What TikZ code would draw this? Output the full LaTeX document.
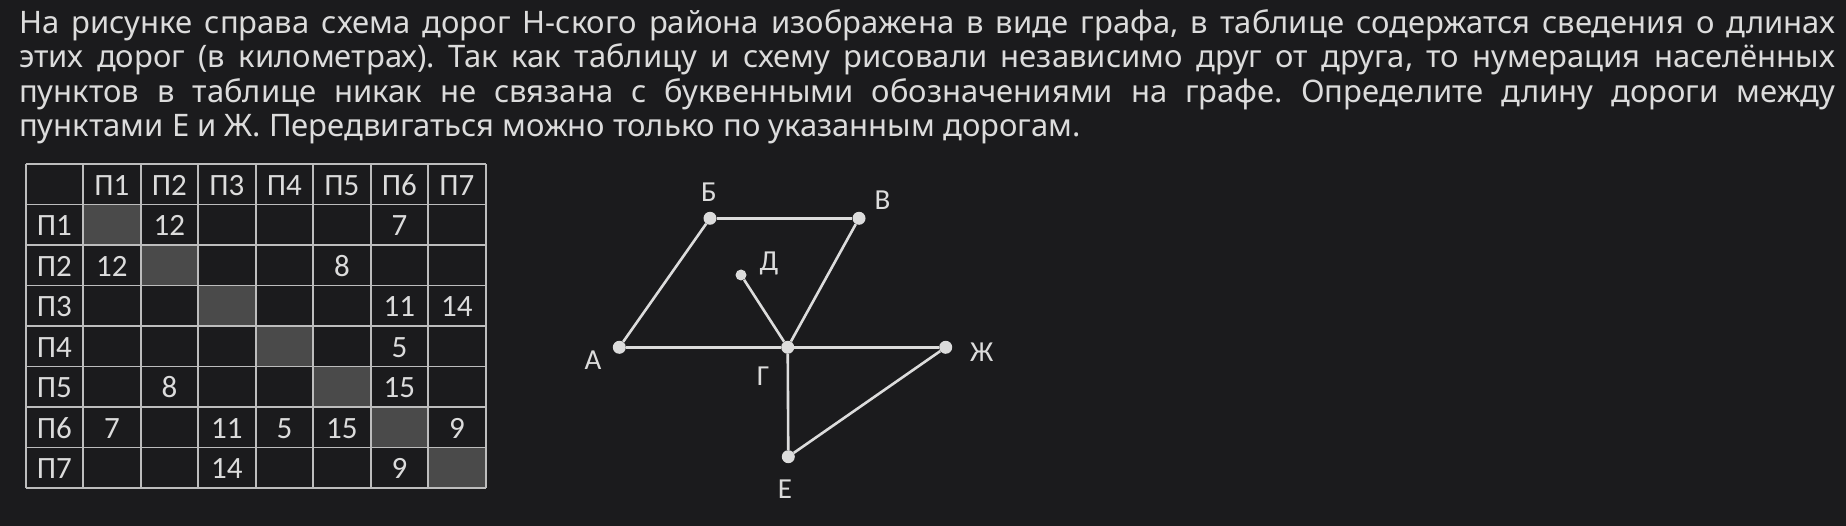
\documentclass[tikz,border=0pt]{standalone}
\usepackage{fontspec}
\usepackage{xcolor}
\setmainfont{Noto Sans}
\newfontfamily\tabfont{Carlito}
\usetikzlibrary{positioning}
\frenchspacing

\definecolor{bgcol}{HTML}{1B1B1D}
\definecolor{fgcol}{HTML}{DCDCDC}
\definecolor{gridcol}{HTML}{BDBDBD}
\definecolor{diagcol}{HTML}{4A4A4A}

\begin{document}
\begin{tikzpicture}[x=1pt, y=-1pt,
    textline/.style={anchor=base west, inner sep=0, text=fgcol, font=\fontsize{31}{34}\selectfont},
    cell/.style={anchor=base, inner sep=0, text=fgcol, font=\tabfont\fontsize{31}{34}\selectfont},
    dot/.style={circle, fill=fgcol, inner sep=0, minimum size=13pt},
    road/.style={draw=fgcol, line width=2.6pt},
    lbl/.style={anchor=base, inner sep=0, text=fgcol, font=\tabfont\fontsize{29}{30}\selectfont}]

% Background
\useasboundingbox (0,0) rectangle (1846,526);
\fill[bgcol] (0,0) rectangle (1846,526);

% Text
\node[textline] (line1) at (19,33.3) {\makebox[1816pt][s]{На рисунке справа схема дорог Н-ского района изображена в виде графа, в таблице содержатся сведения о длинах}};
\node[textline] (line2) at (19,67.8) {\makebox[1816pt][s]{этих дорог (в километрах). Так как таблицу и схему рисовали независимо друг от друга, то нумерация населённых}};
\node[textline] (line3) at (19,102.3) {\makebox[1816pt][s]{пунктов в таблице никак не связана с буквенными обозначениями на графе. Определите длину дороги между}};
\node[textline] (line4) at (19,136.8) {пунктами Е и Ж. Передвигаться можно только по указанным дорогам.};

% Table
\foreach \k in {1,...,7}
    \fill[diagcol] ({25.7+57.5*\k},{164+40.5*\k}) rectangle +(57.5,40.5);
\foreach \k in {0,...,8} {
    \draw[gridcol, line width=1.8pt] ({25.7+57.5*\k},164) -- +(0,324);
    \draw[gridcol, line width=1.8pt] (25.7,{164+40.5*\k}) -- +(460,0);
}
\foreach \k in {1,...,7} {
    \node[cell] (h\k) at ({25.7+57.5*(\k+0.5)},{164+40.5*0.5+11}) {П\k};
    \node[cell] (r\k) at ({25.7+57.5*0.5},{164+40.5*(\k+0.5)+11}) {П\k};
}
\foreach \r/\c/\v in {1/2/12, 1/6/7, 2/1/12, 2/5/8, 3/6/11, 3/7/14, 4/6/5, 5/2/8, 5/6/15,
                      6/1/7, 6/3/11, 6/4/5, 6/5/15, 6/7/9, 7/3/14, 7/6/9}
    \node[cell] (v\r\c) at ({25.7+57.5*(\c+0.5)},{164+40.5*(\r+0.5)+11}) {\v};

% Graph
\node[dot] (A) at (619.3,347.3) {};
\node[dot] (B) at (710,218.3) {};
\node[dot] (V) at (859,218.3) {};
\node[dot, minimum size=11pt] (D) at (741,275) {};
\node[dot] (G) at (787.7,347.3) {};
\node[dot] (Zh) at (945.7,347.3) {};
\node[dot] (E) at (788.3,456.7) {};

\draw[road] (A) -- (B);
\draw[road] (B) -- (V);
\draw[road] (V) -- (G);
\draw[road] (D) -- (G);
\draw[road] (A) -- (G);
\draw[road] (G) -- (Zh);
\draw[road] (G) -- (E);
\draw[road] (E) -- (Zh);

% Labels
\node[lbl] (lA) at (593,369) {А};
\node[lbl] (lB) at (709,201.5) {Б};
\node[lbl] (lV) at (882.5,210) {В};
\node[lbl] (lG) at (763,385) {Г};
\node[lbl] (lD) at (769,271) {Д};
\node[lbl] (lE) at (785,498) {Е};
\node[lbl] (lZh) at (981.7,361.7) {Ж};

\end{tikzpicture}
\end{document}
